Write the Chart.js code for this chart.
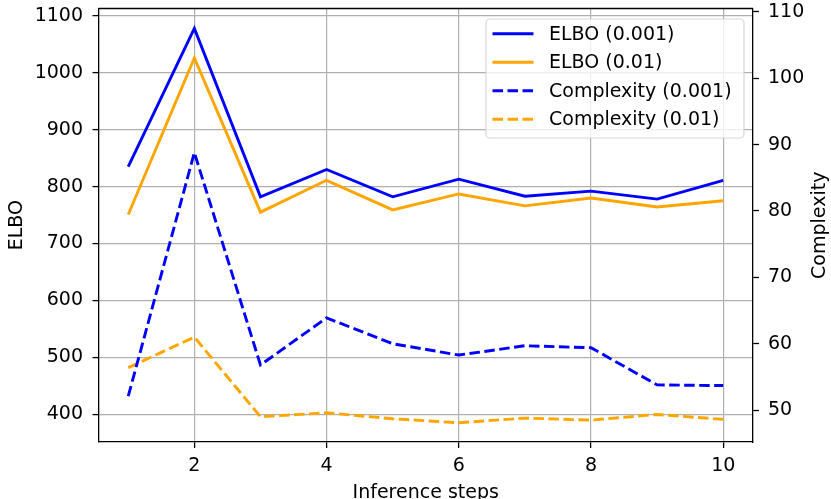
<!DOCTYPE html>
<html>
<head>
<meta charset="utf-8">
<script src="https://cdn.jsdelivr.net/npm/chart.js@4"></script>
<style>
  html, body { margin: 0; padding: 0; background: #fff; }
  #wrap { width: 831px; height: 499px; }
</style>
</head>
<body>
<div id="wrap"><canvas id="chart"></canvas></div>
<script>
// dados
const steps = [1, 2, 3, 4, 5, 6, 7, 8, 9, 10];
const elbo001 = [835, 1078, 782, 830, 782, 813, 783, 792, 778, 811];
const elbo01 = [751, 1026, 755, 811, 759, 787, 766, 780, 764, 775];
const complexity001 = [52.1, 88.8, 56.8, 63.9, 60.0, 58.3, 59.7, 59.4, 53.8, 53.7];
const complexity01 = [56.4, 61.0, 49.0, 49.6, 48.7, 48.1, 48.8, 48.5, 49.35, 48.6];

const xTicks = [2, 4, 6, 8, 10];
const elboTicks = [400, 500, 600, 700, 800, 900, 1000, 1100];
const complexityTicks = [50, 60, 70, 80, 90, 100, 110];

const FONT = "'DejaVu Sans', sans-serif";
Chart.defaults.font.family = FONT;
Chart.defaults.font.size = 19;
Chart.defaults.color = '#000';

const toPoints = (vals) => steps.map((s, i) => ({ x: s, y: vals[i] }));
const fixTicks = (list) => (axis) => { axis.ticks = list.map(v => ({ value: v })); };
const plain = (v) => String(v);

// legenda dentro da área do gráfico + título do eixo direito (lido de baixo pra cima)
const extras = {
    id: 'extras',
    afterDatasetsDraw(chart) {
        const ctx = chart.ctx;
        const area = chart.chartArea;
        ctx.save();
        // borda superior
        ctx.strokeStyle = '#000';
        ctx.lineWidth = 1.3;
        ctx.beginPath();
        ctx.moveTo(area.left, area.top);
        ctx.lineTo(area.right, area.top);
        ctx.stroke();

        const bx = 486, by = 19, bw = 258, bh = 119;
        ctx.beginPath();
        ctx.roundRect(bx, by, bw, bh, 4);
        ctx.fillStyle = 'rgba(255,255,255,0.8)';
        ctx.fill();
        ctx.strokeStyle = 'rgba(204,204,204,0.8)';
        ctx.lineWidth = 1.2;
        ctx.stroke();

        ctx.font = '19px ' + FONT;
        ctx.textBaseline = 'middle';
        ctx.textAlign = 'left';
        chart.data.datasets.forEach((ds, i) => {
            const y = 33.7 + i * 28.5;
            ctx.strokeStyle = ds.borderColor;
            ctx.lineWidth = ds.borderWidth;
            ctx.setLineDash(ds.borderDash || []);
            ctx.beginPath();
            ctx.moveTo(492.5, y);
            ctx.lineTo(533.5, y);
            ctx.stroke();
            ctx.setLineDash([]);
            ctx.fillStyle = '#000';
            ctx.fillText(ds.label, 549, y + 1);
        });

        ctx.translate(820, (area.top + area.bottom) / 2);
        ctx.rotate(-Math.PI / 2);
        ctx.textAlign = 'center';
        ctx.fillText('Complexity', 0, 0);
        ctx.restore();
    }
};

const dash = [10.5, 4.5];
const LW = 2.9;

new Chart(document.getElementById('chart'), {
    type: 'line',
    data: {
        datasets: [
            { label: 'ELBO (0.001)', data: toPoints(elbo001), borderColor: '#0000ff', borderWidth: LW, yAxisID: 'y', order: 2 },
            { label: 'ELBO (0.01)', data: toPoints(elbo01), borderColor: '#ffa500', borderWidth: LW, yAxisID: 'y', order: 3 },
            { label: 'Complexity (0.001)', data: toPoints(complexity001), borderColor: '#0000ff', borderWidth: LW, borderDash: dash, yAxisID: 'y2', order: 0 },
            { label: 'Complexity (0.01)', data: toPoints(complexity01), borderColor: '#ffa500', borderWidth: LW, borderDash: dash, yAxisID: 'y2', order: 1 }
        ]
    },
    options: {
        responsive: true,
        maintainAspectRatio: false,
        animation: false,
        elements: {
            line: { tension: 0, fill: false },
            point: { radius: 0, hoverRadius: 0 }
        },
        layout: { padding: { left: 0, right: 0, top: 8.5, bottom: 0 } },
        plugins: {
            legend: { display: false },
            tooltip: { enabled: false }
        },
        scales: {
            x: {
                type: 'linear',
                min: 0.55,
                max: 10.45,
                afterBuildTicks: fixTicks(xTicks),
                afterFit: (axis) => { axis.height = 57; axis.paddingLeft = 0; axis.paddingRight = 0; },
                ticks: { padding: 7, maxRotation: 0, callback: plain },
                grid: { color: '#b0b0b0', lineWidth: 1.2, tickColor: '#000', tickLength: 6, tickWidth: 1.3 },
                border: { color: '#000', width: 1.3 },
                title: { display: true, text: 'Inference steps', padding: { top: 0, bottom: -5 } }
            },
            y: {
                type: 'linear',
                position: 'left',
                min: 351,
                max: 1113,
                afterBuildTicks: fixTicks(elboTicks),
                afterFit: (axis) => { axis.width = 98.5; axis.paddingTop = 0; axis.paddingBottom = 0; },
                ticks: { padding: 9.5, callback: plain },
                grid: { color: '#b0b0b0', lineWidth: 1.2, tickColor: '#000', tickLength: 6, tickWidth: 1.3 },
                border: { color: '#000', width: 1.3 },
                title: { display: true, text: 'ELBO', padding: { top: 6, bottom: 0 } }
            },
            y2: {
                type: 'linear',
                position: 'right',
                min: 45.2,
                max: 110.5,
                afterBuildTicks: fixTicks(complexityTicks),
                afterFit: (axis) => { axis.width = 78; axis.paddingTop = 0; axis.paddingBottom = 0; },
                ticks: { padding: 9, callback: plain },
                grid: { drawOnChartArea: false, tickColor: '#000', tickLength: 6, tickWidth: 1.3 },
                border: { color: '#000', width: 1.3 },
                title: { display: false }
            }
        }
    },
    plugins: [extras]
});
</script>
</body>
</html>
